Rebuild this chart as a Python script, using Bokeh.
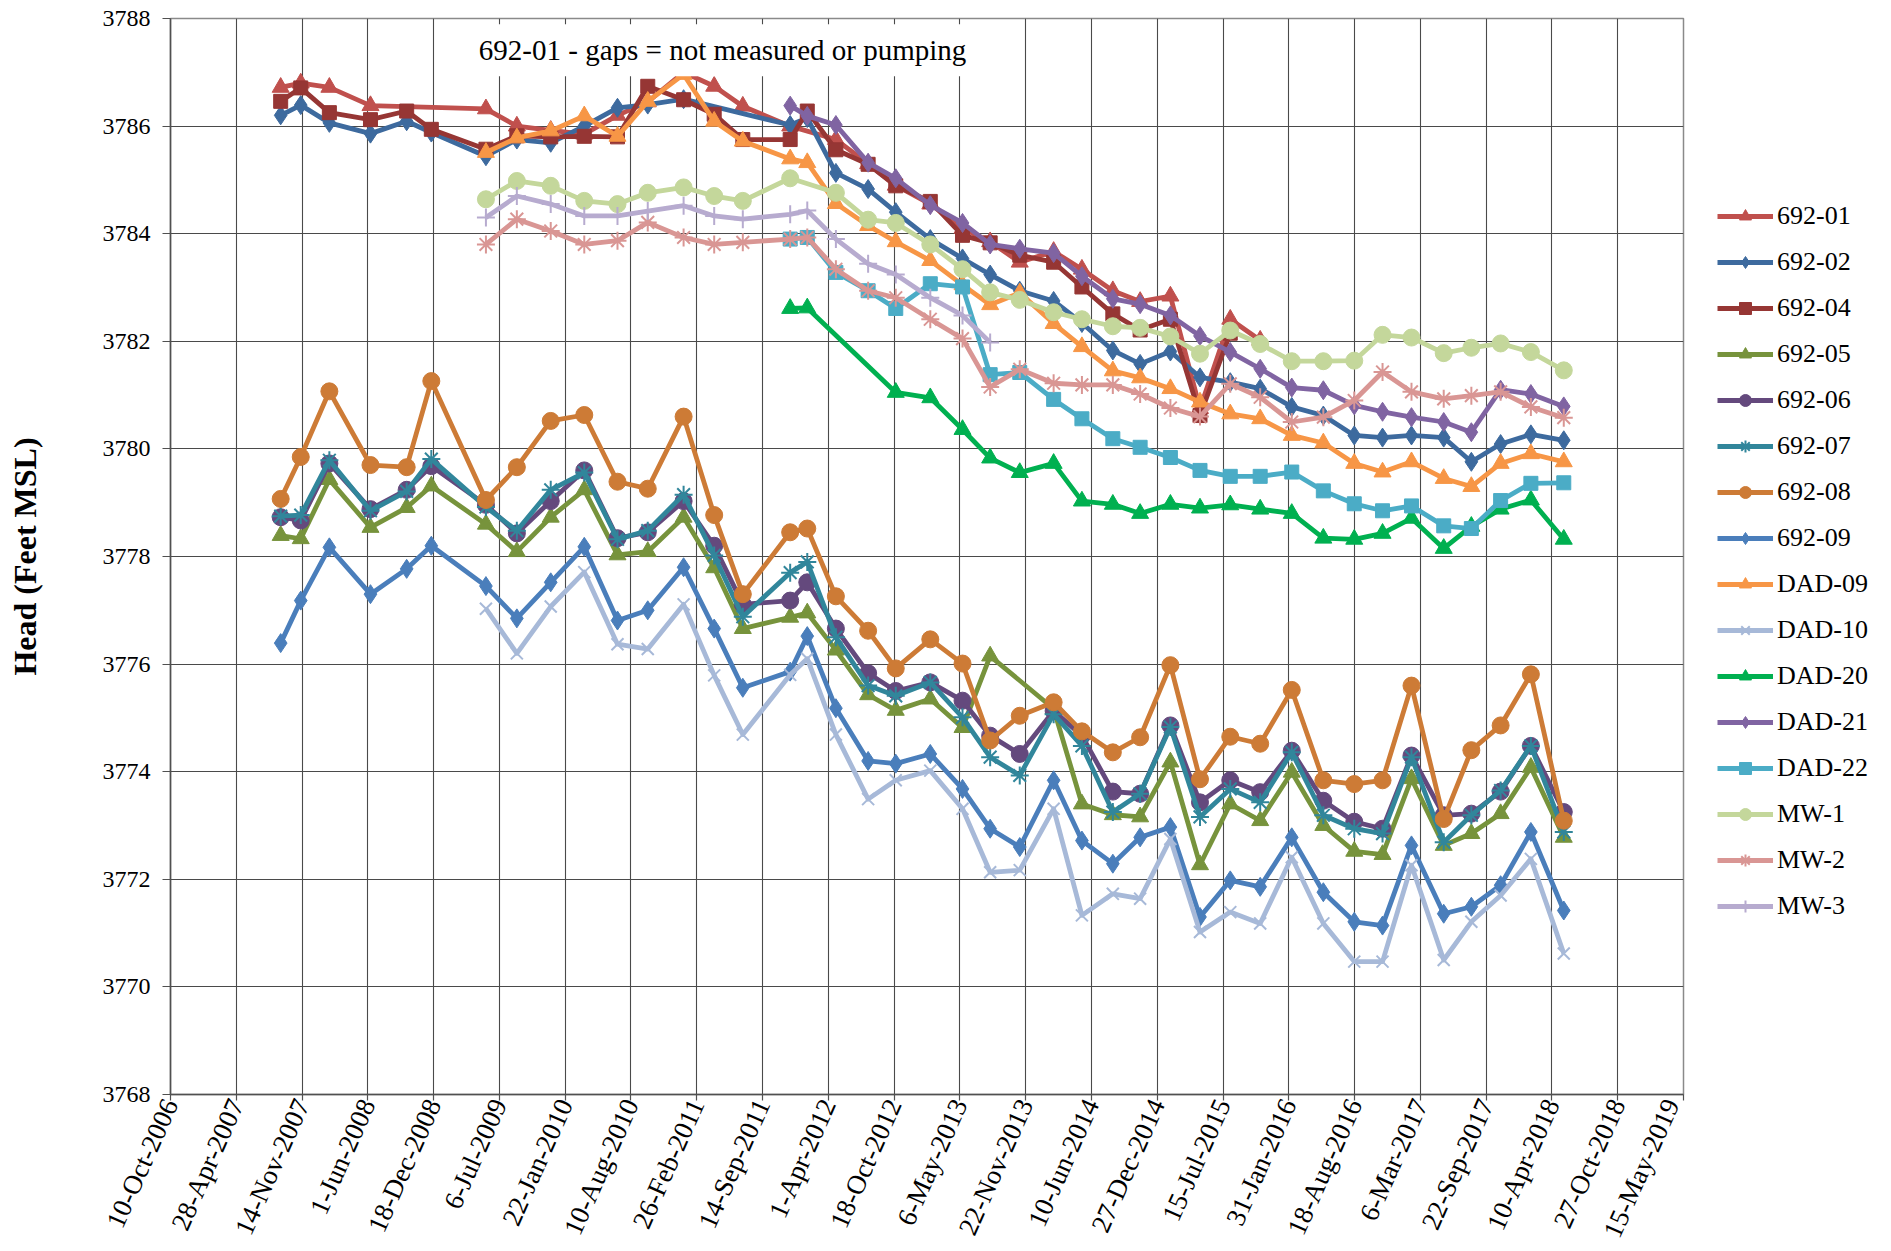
import numpy as np
import pandas as pd
from bokeh.plotting import figure
from bokeh.layouts import row
from bokeh.models import ColumnDataSource, FixedTicker, Legend, LegendItem, Label, Range1d
from bokeh.embed import file_html
from bokeh.resources import INLINE

N = None
FONT = "Liberation Serif"

sample_dates = ["2007-09-10", "2007-11-10", "2008-02-05", "2008-06-09", "2008-09-27", "2008-12-11",
                "2009-05-26", "2009-08-28", "2009-12-09", "2010-03-21", "2010-06-30", "2010-09-30",
                "2011-01-17", "2011-04-20", "2011-07-16", "2011-12-07", "2012-01-28", "2012-04-24",
                "2012-07-31", "2012-10-23", "2013-02-05", "2013-05-14", "2013-08-06", "2013-11-04",
                "2014-02-15", "2014-05-12", "2014-08-14", "2014-11-05", "2015-02-05", "2015-05-06",
                "2015-08-06", "2015-11-05", "2016-02-09", "2016-05-15", "2016-08-17", "2016-11-11",
                "2017-02-07", "2017-05-16", "2017-08-08", "2017-11-05", "2018-02-05", "2018-05-16"]

tick_labels = ["10-Oct-2006", "28-Apr-2007", "14-Nov-2007", "1-Jun-2008", "18-Dec-2008", "6-Jul-2009",
               "22-Jan-2010", "10-Aug-2010", "26-Feb-2011", "14-Sep-2011", "1-Apr-2012", "18-Oct-2012",
               "6-May-2013", "22-Nov-2013", "10-Jun-2014", "27-Dec-2014", "15-Jul-2015", "31-Jan-2016",
               "18-Aug-2016", "6-Mar-2017", "22-Sep-2017", "10-Apr-2018", "27-Oct-2018", "15-May-2019"]
y_ticks = [3768, 3770, 3772, 3774, 3776, 3778, 3780, 3782, 3784, 3786, 3788]

note_text = "692-01 - gaps = not measured or pumping"
note_date = "2009-04-04"
note_value = 3787.41

s_692_01 = [3786.72, 3786.80, 3786.72, 3786.38, N, N, 3786.32, 3786.00, 3785.92, 3785.85,
            3786.20, 3786.45, 3787.00, 3786.74, 3786.37, 3786.00, N, 3785.75, 3785.30, 3784.90,
            3784.55, 3784.10, 3783.85, 3783.47, 3783.67, 3783.34, 3782.94, 3782.74, 3782.84, 3780.75,
            3782.41, 3782.02, N, N, N, N, N, N, N, N, N, N]
s_692_02 = [3786.20, 3786.39, 3786.06, 3785.86, 3786.09, 3785.88, 3785.44, 3785.75, 3785.69, 3786.00,
            3786.34, 3786.40, 3786.50, N, N, 3786.02, 3786.15, 3785.13, 3784.83, 3784.40,
            3783.90, 3783.54, 3783.24, 3782.94, 3782.75, 3782.34, 3781.83, 3781.58, 3781.81, 3781.33,
            3781.24, 3781.12, 3780.78, 3780.62, 3780.25, 3780.21, 3780.25, 3780.21, 3779.76, 3780.09,
            3780.27, 3780.16]
s_692_04 = [3786.46, 3786.71, 3786.25, 3786.12, 3786.28, 3785.94, 3785.57, 3785.82, 3785.80, 3785.81,
            3785.80, 3786.74, 3786.49, 3786.22, 3785.75, 3785.75, 3786.28, 3785.56, 3785.29, 3784.89,
            3784.60, 3783.97, 3783.83, 3783.60, 3783.47, 3783.01, 3782.51, 3782.21, 3782.41, 3780.62,
            3782.15, N, N, N, N, N, N, N, N, N, N, N]
s_692_05 = [3778.39, 3778.33, 3779.43, 3778.54, 3778.91, 3779.31, 3778.60, 3778.09, 3778.73, 3779.24,
            3778.03, 3778.09, 3778.73, 3777.79, 3776.66, 3776.87, 3776.95, 3776.26, 3775.43, 3775.14,
            3775.35, 3774.82, 3776.15, N, 3775.17, 3773.40, 3773.20, 3773.16, 3774.18, 3772.27,
            3773.40, 3773.09, 3773.99, 3773.00, 3772.52, 3772.46, 3773.87, 3772.63, 3772.85, 3773.22,
            3774.08, 3772.78]
s_692_06 = [3778.73, 3778.67, 3779.73, 3778.88, 3779.24, 3779.68, 3778.96, 3778.43, 3779.03, 3779.60,
            3778.34, 3778.45, 3779.03, 3778.20, 3777.11, 3777.18, 3777.52, 3776.66, 3775.83, 3775.50,
            3775.66, 3775.32, 3774.67, 3774.33, 3775.13, 3774.67, 3773.63, 3773.59, 3774.86, 3773.43,
            3773.84, 3773.62, 3774.39, 3773.46, 3773.07, 3772.94, 3774.30, 3773.19, 3773.22, 3773.63,
            3774.48, 3773.25]
s_692_07 = [3778.75, 3778.77, 3779.79, 3778.85, 3779.21, 3779.81, 3778.92, 3778.48, 3779.24, 3779.56,
            3778.32, 3778.48, 3779.15, 3778.02, 3776.88, 3777.70, 3777.90, 3776.50, 3775.60, 3775.41,
            3775.66, 3775.01, 3774.27, 3773.93, 3775.07, 3774.48, 3773.25, 3773.59, 3774.83, 3773.16,
            3773.68, 3773.43, 3774.36, 3773.19, 3772.94, 3772.85, 3774.27, 3772.69, 3773.19, 3773.65,
            3774.48, 3772.88]
s_692_08 = [3779.07, 3779.85, 3781.07, 3779.70, 3779.66, 3781.26, 3779.05, 3779.66, 3780.52, 3780.63,
            3779.39, 3779.26, 3780.60, 3778.77, 3777.30, 3778.45, 3778.52, 3777.26, 3776.62, 3775.92,
            3776.46, 3776.01, 3774.58, 3775.04, 3775.29, 3774.75, 3774.36, 3774.64, 3775.98, 3773.86,
            3774.65, 3774.52, 3775.52, 3773.84, 3773.77, 3773.84, 3775.60, 3773.12, 3774.40, 3774.86,
            3775.81, 3773.09]
s_692_09 = [3776.39, 3777.18, 3778.17, 3777.30, 3777.77, 3778.20, 3777.45, 3776.85, 3777.52, 3778.18,
            3776.81, 3777.00, 3777.80, 3776.66, 3775.56, 3775.86, 3776.52, 3775.18, 3774.20, 3774.15,
            3774.33, 3773.68, 3772.94, 3772.60, 3773.84, 3772.72, 3772.29, 3772.78, 3772.97, 3771.30,
            3771.98, 3771.86, 3772.78, 3771.76, 3771.21, 3771.14, 3772.63, 3771.36, 3771.49, 3771.89,
            3772.88, 3771.42]
s_dad_09 = [N, N, N, N, N, N, 3785.51, 3785.78, 3785.91, 3786.19,
            3785.81, 3786.46, 3786.96, 3786.09, 3785.72, 3785.39, 3785.32, 3784.56, 3784.15, 3783.85,
            3783.50, 3783.05, 3782.68, 3782.90, 3782.33, 3781.90, 3781.45, 3781.32, 3781.12, 3780.87,
            3780.65, 3780.56, 3780.25, 3780.11, 3779.73, 3779.57, 3779.76, 3779.45, 3779.30, 3779.73,
            3779.91, 3779.76]
s_dad_10 = [N, N, N, N, N, N, 3777.03, 3776.20, 3777.07, 3777.71,
            3776.37, 3776.28, 3777.11, 3775.79, 3774.69, 3775.80, 3776.10, 3774.69, 3773.49, 3773.84,
            3774.02, 3773.31, 3772.13, 3772.17, 3773.31, 3771.33, 3771.73, 3771.64, 3772.75, 3771.02,
            3771.39, 3771.18, 3772.41, 3771.18, 3770.47, 3770.47, 3772.26, 3770.50, 3771.21, 3771.70,
            3772.38, 3770.62]
s_dad_20 = [N, N, N, N, N, N, N, N, N, N,
            N, N, N, N, N, 3782.61, 3782.62, N, N, 3781.05,
            3780.95, 3780.36, 3779.83, 3779.56, 3779.73, 3779.03, 3778.97, 3778.80, 3778.97, 3778.90,
            3778.96, 3778.88, 3778.80, 3778.34, 3778.32, 3778.43, 3778.71, 3778.15, 3778.56, 3778.88,
            3779.05, 3778.32]
s_dad_21 = [N, N, N, N, N, N, N, N, N, N,
            N, N, N, N, N, 3786.38, 3786.19, 3786.02, 3785.32, 3785.03,
            3784.53, 3784.20, 3783.80, 3783.72, 3783.64, 3783.21, 3782.79, 3782.69, 3782.48, 3782.10,
            3781.80, 3781.49, 3781.14, 3781.09, 3780.81, 3780.69, 3780.59, 3780.50, 3780.31, 3781.10,
            3781.02, 3780.79]
s_dad_22 = [N, N, N, N, N, N, N, N, N, N,
            N, N, N, N, N, 3783.90, 3783.93, 3783.28, 3782.94, 3782.61,
            3783.07, 3783.01, 3781.38, 3781.42, 3780.92, 3780.56, 3780.19, 3780.03, 3779.84, 3779.60,
            3779.49, 3779.49, 3779.57, 3779.22, 3778.98, 3778.85, 3778.94, 3778.57, 3778.52, 3779.04,
            3779.36, 3779.37]
s_mw_1 = [N, N, N, N, N, N, 3784.64, 3784.98, 3784.89, 3784.61,
          3784.55, 3784.76, 3784.86, 3784.70, 3784.61, 3785.03, N, 3784.76, 3784.26, 3784.20,
          3783.80, 3783.34, 3782.91, 3782.77, 3782.54, 3782.41, 3782.28, 3782.25, 3782.09, 3781.77,
          3782.20, 3781.95, 3781.63, 3781.63, 3781.64, 3782.12, 3782.07, 3781.78, 3781.88, 3781.96,
          3781.80, 3781.46]
s_mw_2 = [N, N, N, N, N, N, 3783.80, 3784.27, 3784.05, 3783.80,
          3783.87, 3784.21, 3783.93, 3783.80, 3783.84, 3783.90, 3783.93, 3783.34, 3782.94, 3782.81,
          3782.41, 3782.05, 3781.15, 3781.48, 3781.22, 3781.19, 3781.19, 3781.02, 3780.76, 3780.60,
          3781.21, 3780.96, 3780.50, 3780.59, 3780.90, 3781.43, 3781.06, 3780.93, 3780.99, 3781.06,
          3780.78, 3780.58]
s_mw_3 = [N, N, N, N, N, N, 3784.30, 3784.70, 3784.55, 3784.33,
          3784.33, 3784.42, 3784.52, 3784.33, 3784.27, 3784.36, 3784.43, 3783.90, 3783.44, 3783.24,
          3782.81, 3782.48, 3781.98, N, N, N, N, N, N, N,
          N, N, N, N, N, N, N, N, N, N, N, N]

series_names = ["692-01", "692-02", "692-04", "692-05", "692-06", "692-07", "692-08", "692-09",
                "DAD-09", "DAD-10", "DAD-20", "DAD-21", "DAD-22", "MW-1", "MW-2", "MW-3"]
series_values = [s_692_01, s_692_02, s_692_04, s_692_05, s_692_06, s_692_07, s_692_08, s_692_09,
                 s_dad_09, s_dad_10, s_dad_20, s_dad_21, s_dad_22, s_mw_1, s_mw_2, s_mw_3]

# styles
series_colors = ["#C0504D", "#3D6A9E", "#963634", "#77933C", "#64497D", "#31869B", "#CD7B36", "#4A7EBB",
                 "#F79646", "#A7B9D8", "#00B050", "#8064A2", "#4BACC6", "#C4D79B", "#D99694", "#B7ABCF"]
series_markers = ["triangle", "diamond", "square", "triangle", "circle", "asterisk", "circle", "diamond",
                  "triangle", "x", "triangle", "diamond", "square", "circle", "asterisk", "cross"]


def to_ms(dates, fmt=None):
    d = pd.to_datetime(dates, format=fmt)
    return d.values.astype("datetime64[ms]").astype("int64").astype(float)


def draw_series(fig, src, color, mk):
    rends = [fig.line("x", "y", source=src, line_color=color, line_width=4.8, line_join="round")]
    if mk == "triangle":
        rends.append(fig.scatter("x", "y", source=src, marker="triangle", size=17,
                                 fill_color=color, line_color=color))
    elif mk == "diamond":
        rends.append(fig.scatter("x", "y", source=src, marker="diamond", size=19,
                                 fill_color=color, line_color=color))
    elif mk == "square":
        rends.append(fig.scatter("x", "y", source=src, marker="square", size=14,
                                 fill_color=color, line_color=color))
    elif mk == "circle":
        rends.append(fig.scatter("x", "y", source=src, marker="circle", size=17,
                                 fill_color=color, line_color=color))
    elif mk == "asterisk":
        rends.append(fig.scatter("x", "y", source=src, marker="asterisk", size=18,
                                 line_color=color, line_width=2))
    elif mk == "x":
        rends.append(fig.scatter("x", "y", source=src, marker="x", size=17,
                                 line_color=color, line_width=2))
    elif mk == "cross":
        rends.append(fig.scatter("x", "y", source=src, marker="cross", size=18,
                                 line_color=color, line_width=2))
    return rends


sample_ms = to_ms(sample_dates)
tick_ms = to_ms(tick_labels, fmt="%d-%b-%Y")

# ---------------- main chart ----------------
p = figure(width=1685, height=1251, output_backend="svg", toolbar_location=None,
           x_range=Range1d(tick_ms[0], tick_ms[-1]), y_range=Range1d(y_ticks[0], y_ticks[-1]),
           min_border_left=170, min_border_right=2, min_border_top=18, min_border_bottom=155,
           background_fill_color="white", border_fill_color="white")

p.outline_line_color = "#8a8a8a"
p.outline_line_width = 1.5

xt = FixedTicker(ticks=[float(t) for t in tick_ms])
yt = FixedTicker(ticks=y_ticks)
p.xaxis.ticker = xt
p.yaxis.ticker = yt
p.xgrid.ticker = xt
p.ygrid.ticker = yt
p.xaxis.major_label_overrides = {float(t): lab for t, lab in zip(tick_ms, tick_labels)}
p.xaxis.major_label_orientation = 1.15
p.grid.grid_line_color = "#4a4a4a"
p.grid.grid_line_width = 1.1

for ax in (p.xaxis[0], p.yaxis[0]):
    ax.axis_line_color = "#505050"
    ax.axis_line_width = 1.5
    ax.major_tick_line_color = "#505050"
    ax.major_tick_line_width = 1.2
    ax.major_tick_in = 0
    ax.minor_tick_out = 0
    ax.minor_tick_in = 0
    ax.major_label_text_font = FONT
    ax.major_label_text_color = "black"

p.xaxis.major_tick_out = 6
p.yaxis.major_tick_out = 8
p.xaxis.major_label_text_font_size = "27px"
p.yaxis.major_label_text_font_size = "24px"
p.yaxis.major_label_standoff = 12
p.xaxis.major_label_standoff = 0
p.yaxis.axis_label = "Head (Feet MSL)"
p.yaxis.axis_label_text_font = FONT
p.yaxis.axis_label_text_font_size = "32px"
p.yaxis.axis_label_text_font_style = "bold"
p.yaxis.axis_label_text_color = "black"
p.yaxis.axis_label_standoff = 57

for name, vals, color, mk in zip(series_names, series_values, series_colors, series_markers):
    xs = [x for x, v in zip(sample_ms, vals) if v is not None]
    ys = [v for v in vals if v is not None]
    draw_series(p, ColumnDataSource(dict(x=xs, y=ys)), color, mk)

note = Label(x=to_ms([note_date])[0], y=note_value, text=note_text, text_font=FONT,
             text_font_size="29px", text_baseline="middle", text_align="left",
             text_color="black", background_fill_color="white", padding=10)
p.add_layout(note)

# ---------------- legend panel (right of the chart) ----------------
pl = figure(width=206, height=1251, output_backend="svg", toolbar_location=None,
            x_range=Range1d(0, 1), y_range=Range1d(0, 1), x_axis_location=None, y_axis_location=None,
            min_border=0, outline_line_color=None, background_fill_color="white",
            border_fill_color="white")
pl.grid.visible = False

items = []
for name, color, mk in zip(series_names, series_colors, series_markers):
    # legend-only proxies, placed outside the visible range of this panel
    proxy = ColumnDataSource(dict(x=[-10.0, -9.0], y=[-10.0, -10.0]))
    rends = draw_series(pl, proxy, color, mk)
    items.append(LegendItem(label=name, renderers=rends))

legend = Legend(items=items, location=(32, 173),
                label_text_font=FONT, label_text_font_size="26px", label_text_color="black",
                glyph_width=56, glyph_height=30, label_height=30, spacing=16, label_standoff=4,
                margin=0, padding=0, border_line_color=None, background_fill_alpha=0)
pl.add_layout(legend)

layout = row(p, pl, spacing=0)

with open("out.html", "w") as f:
    f.write(file_html(layout, INLINE))
